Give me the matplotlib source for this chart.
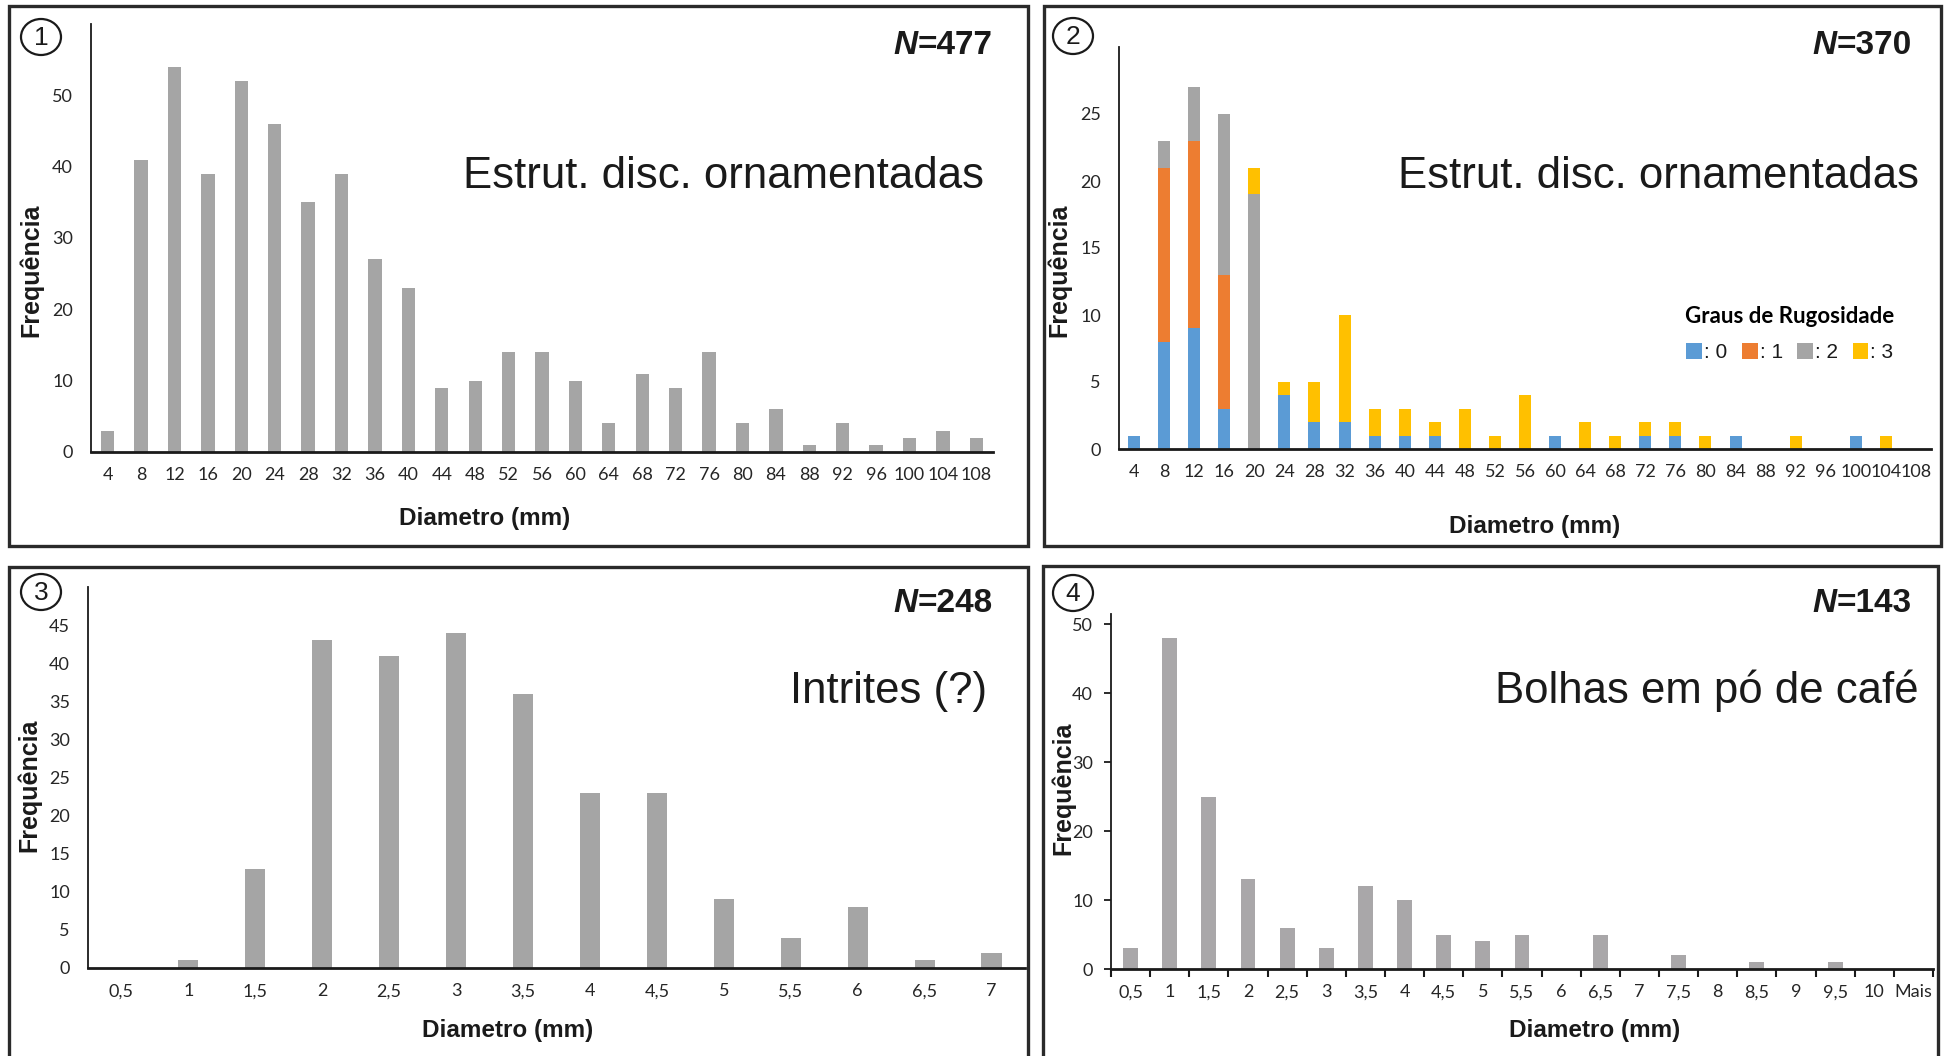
import numpy as np
import matplotlib
matplotlib.use("Agg")
import matplotlib.pyplot as plt
from matplotlib.patches import Rectangle, Ellipse, Patch

# ---- data ----
diam_big = ['4', '8', '12', '16', '20', '24', '28', '32', '36', '40', '44', '48', '52', '56',
            '60', '64', '68', '72', '76', '80', '84', '88', '92', '96', '100', '104', '108']
freq_p1 = [3, 41, 54, 39, 52, 46, 35, 39, 27, 23, 9, 10, 14, 14, 10, 4, 11, 9, 14, 4, 6, 1, 4, 1, 2, 3, 2]

# panel 2: stacked by roughness grade
grau0 = [1, 8, 9, 3, 0, 4, 2, 2, 1, 1, 1, 0, 0, 0, 1, 0, 0, 1, 1, 0, 1, 0, 0, 0, 1, 0, 0]
grau1 = [0, 13, 14, 10, 0, 0, 0, 0, 0, 0, 0, 0, 0, 0, 0, 0, 0, 0, 0, 0, 0, 0, 0, 0, 0, 0, 0]
grau2 = [0, 2, 4, 12, 19, 0, 0, 0, 0, 0, 0, 0, 0, 0, 0, 0, 0, 0, 0, 0, 0, 0, 0, 0, 0, 0, 0]
grau3 = [0, 0, 0, 0, 2, 1, 3, 8, 2, 2, 1, 3, 1, 4, 0, 2, 1, 1, 1, 1, 0, 0, 1, 0, 0, 1, 0]
grau_labels = [': 0', ': 1', ': 2', ': 3']

diam_p3 = ['0,5', '1', '1,5', '2', '2,5', '3', '3,5', '4', '4,5', '5', '5,5', '6', '6,5', '7']
freq_p3 = [0, 1, 13, 43, 41, 44, 36, 23, 23, 9, 4, 8, 1, 2]

diam_p4 = ['0,5', '1', '1,5', '2', '2,5', '3', '3,5', '4', '4,5', '5', '5,5', '6', '6,5', '7',
           '7,5', '8', '8,5', '9', '9,5', '10', 'Mais']
freq_p4 = [3, 48, 25, 13, 6, 3, 12, 10, 5, 4, 5, 0, 5, 0, 2, 0, 1, 0, 1, 0, 0]

titles = ['Estrut. disc. ornamentadas', 'Estrut. disc. ornamentadas', 'Intrites (?)', 'Bolhas em pó de café']
n_values = ['477', '370', '248', '143']

# ---- layout helpers (pixel positions) ----
W, H = 1946, 1056
fig = plt.figure(figsize=(W / 100, H / 100), dpi=100)
fig.patch.set_facecolor('white')

def fx(x):
    return x / W

def fy(y):
    return 1 - y / H

def make_axes(l, t, r, b):
    return fig.add_axes([fx(l), fy(b), fx(r) - fx(l), fy(t) - fy(b)])

TICKFONT = 'Lato'
BIGFONT = 'Liberation Sans'
GRAY = '#A5A5A5'
TXT = '#262626'

def style_axes(ax, labels, ymax, yticks, ticks_on=False):
    ax.set_xlim(-0.5, len(labels) - 0.5)
    ax.set_ylim(0, ymax)
    ax.set_xticks(range(len(labels)))
    ax.set_xticklabels(labels, fontfamily=TICKFONT, fontsize=13, color=TXT)
    ax.set_yticks(yticks)
    ax.set_yticklabels([str(v) for v in yticks], fontfamily=TICKFONT, fontsize=13, color=TXT)
    for s in ['top', 'right']:
        ax.spines[s].set_visible(False)
    ax.spines['left'].set_linewidth(1.3)
    ax.spines['left'].set_color('#1a1a1a')
    ax.spines['bottom'].set_linewidth(2.0)
    ax.spines['bottom'].set_color('#1a1a1a')
    ax.tick_params(axis='x', length=0, pad=11)
    if ticks_on:
        ax.tick_params(axis='y', length=5, width=1.3, pad=8, color='#1a1a1a')
        ax.set_xticks(np.arange(-0.5, len(labels), 1), minor=True)
        ax.tick_params(axis='x', which='minor', length=6, width=1.5, color='#1a1a1a')
    else:
        ax.tick_params(axis='y', length=0, pad=13)
    ax.set_facecolor('none')

def decorate(box, circ, num, n_pos, title_pos, title, nval, freq_pos, diam_pos):
    x0, y0, x1, y1 = box
    fig.patches.append(Rectangle((fx(x0), fy(y1)), fx(x1) - fx(x0), fy(y0) - fy(y1),
                                 transform=fig.transFigure, fill=False, lw=2.4, ec='#2a2a2a'))
    fig.patches.append(Ellipse((fx(circ[0]), fy(circ[1])), 40 / W, 36 / H,
                               transform=fig.transFigure, fill=False, lw=1.6, ec='#1a1a1a'))
    fig.text(fx(circ[0]), fy(circ[1] + 1), num, fontfamily=BIGFONT, fontsize=19,
             ha='center', va='center', color='#1a1a1a')
    t = fig.text(fx(n_pos[0]), fy(n_pos[1]), '=' + nval, fontfamily=BIGFONT, fontweight='bold',
                 fontsize=24, ha='right', va='center', color='#1a1a1a')
    # italic N placed to the left of "=nnn"
    fig.canvas.draw()
    bb = t.get_window_extent()
    fig.text(bb.x0 / W, fy(n_pos[1]), 'N', fontfamily=BIGFONT, fontweight='bold',
             fontstyle='italic', fontsize=24, ha='right', va='center', color='#1a1a1a')
    fig.text(fx(title_pos[0]), fy(title_pos[1]), title, fontfamily=BIGFONT, fontsize=31.5,
             ha='right', va='center', color='#1a1a1a')
    fig.text(fx(freq_pos[0]), fy(freq_pos[1]), 'Frequência', fontfamily=BIGFONT, fontweight='bold',
             fontsize=18, rotation=90, ha='center', va='center', color='#1a1a1a')
    fig.text(fx(diam_pos[0]), fy(diam_pos[1]), 'Diametro (mm)', fontfamily=BIGFONT,
             fontweight='bold', fontsize=17.5, ha='center', va='center', color='#1a1a1a')

# ---- panel 1 ----
ax1 = make_axes(91, 24, 993, 452)
ax1.bar(range(len(diam_big)), freq_p1, width=0.4, color=GRAY)
style_axes(ax1, diam_big, 60, list(range(0, 51, 10)))

# ---- panel 2 (stacked) ----
ax2 = make_axes(1119, 47, 1931, 449)
colors2 = ['#5B9BD5', '#ED7D31', '#A5A5A5', '#FFC000']
bottom = np.zeros(len(diam_big))
handles = []
for vals, c in zip([grau0, grau1, grau2, grau3], colors2):
    ax2.bar(range(len(diam_big)), vals, width=0.4, bottom=bottom, color=c)
    bottom += np.array(vals)
    handles.append(Patch(facecolor=c, edgecolor='none'))
style_axes(ax2, diam_big, 30, list(range(0, 26, 5)))
leg = ax2.legend(handles, grau_labels, ncol=4, frameon=False, loc='center',
                 bbox_to_anchor=(fx(1790), fy(334)), bbox_transform=fig.transFigure,
                 handlelength=0.75, handleheight=0.75, handletextpad=0.1, columnspacing=0.7,
                 prop={'family': BIGFONT, 'size': 15},
                 title='Graus de Rugosidade',
                 title_fontproperties={'family': TICKFONT, 'weight': 'bold', 'size': 16})
leg._legend_box.sep = 12
for txt in leg.get_texts():
    txt.set_color('#1a1a1a')

# ---- panel 3 ----
ax3 = make_axes(88, 587, 1025, 968)
ax3.bar(range(len(diam_p3)), freq_p3, width=0.3, color=GRAY)
style_axes(ax3, diam_p3, 50, list(range(0, 46, 5)))

# ---- panel 4 ----
ax4 = make_axes(1111, 614, 1933, 969)
ax4.bar(range(len(diam_p4)), freq_p4, width=0.38, color='#A9A7A9')
style_axes(ax4, diam_p4, 51.5, list(range(0, 51, 10)), ticks_on=True)

# ---- boxes, titles, labels ----
decorate((9, 6, 1028, 546), (41, 37), '1', (993, 46), (984, 177), titles[0], n_values[0],
         (31, 270), (485, 519))
decorate((1044, 6, 1941, 546), (1073, 36), '2', (1912, 46), (1919, 177), titles[1], n_values[1],
         (1059, 270), (1535, 526))
decorate((9, 567, 1028, 1070), (41, 592), '3', (993, 604), (987, 691), titles[2], n_values[2],
         (29, 785), (508, 1030))
decorate((1043, 566, 1938, 1070), (1073, 593), '4', (1912, 604), (1919, 691), titles[3], n_values[3],
         (1063, 788), (1595, 1031))

fig.savefig('out.png', dpi=100, facecolor='white')
